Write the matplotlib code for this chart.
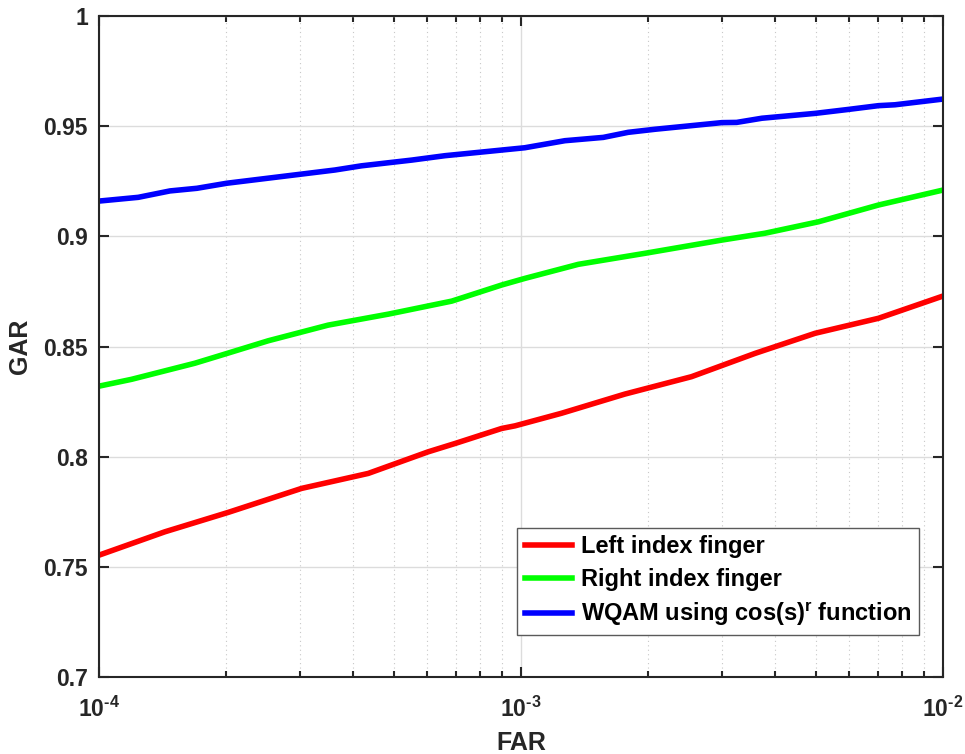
import numpy as np
import matplotlib
matplotlib.use('Agg')
import matplotlib.pyplot as plt
from matplotlib.ticker import LogLocator, NullFormatter, FixedLocator, FixedFormatter

plt.rcParams['font.family'] = ['Liberation Sans', 'DejaVu Sans']
plt.rcParams['font.weight'] = 'bold'
plt.rcParams['mathtext.fontset'] = 'custom'
plt.rcParams['mathtext.rm'] = 'Liberation Sans:bold'
plt.rcParams['mathtext.it'] = 'Liberation Sans:bold'
plt.rcParams['mathtext.bf'] = 'Liberation Sans:bold'
plt.rcParams['mathtext.default'] = 'rm'

# curve readings (log10 of FAR, GAR)
leftLogFar = [-4.0, -3.844, -3.694, -3.520, -3.362, -3.220, -3.156, -3.046, -3.014,
              -2.904, -2.754, -2.596, -2.445, -2.303, -2.153, -2.0]
leftGar = [0.7553, 0.7659, 0.7747, 0.7856, 0.7924, 0.8022, 0.8060, 0.8128, 0.8140,
           0.8197, 0.8284, 0.8363, 0.8469, 0.8560, 0.8628, 0.8729]

rightLogFar = [-4.0, -3.923, -3.773, -3.701, -3.599, -3.457, -3.314, -3.164, -3.046,
               -2.991, -2.864, -2.706, -2.524, -2.422, -2.295, -2.224, -2.153, -2.0]
rightGar = [0.8320, 0.8351, 0.8424, 0.8466, 0.8526, 0.8597, 0.8647, 0.8706, 0.8779,
            0.8809, 0.8873, 0.8923, 0.8983, 0.9014, 0.9066, 0.9104, 0.9142, 0.9210]

wqamLogFar = [-4.0, -3.907, -3.832, -3.768, -3.697, -3.441, -3.378, -3.259, -3.180,
              -3.101, -2.991, -2.896, -2.805, -2.746, -2.682, -2.524, -2.489, -2.429,
              -2.303, -2.224, -2.153, -2.114, -2.0]
wqamGar = [0.9160, 0.9177, 0.9206, 0.9218, 0.9241, 0.9301, 0.9320, 0.9346, 0.9366,
           0.9381, 0.9402, 0.9434, 0.9449, 0.9472, 0.9486, 0.9516, 0.9517, 0.9536,
           0.9558, 0.9576, 0.9593, 0.9597, 0.9623]

labels = ['Left index finger', 'Right index finger', r'WQAM using cos(s)$^\mathrm{r}$ function']
xTicks = [1e-4, 1e-3, 1e-2]
xTickLabels = [r'10$^{\text{-4}}$', r'10$^{\text{-3}}$', r'10$^{\text{-2}}$']
yTicks = [0.7, 0.75, 0.8, 0.85, 0.9, 0.95, 1.0]
yTickLabels = ['0.7', '0.75', '0.8', '0.85', '0.9', '0.95', '1']

fig = plt.figure(figsize=(9.65, 7.54), dpi=100)
ax = fig.add_axes([0.1026, 0.1021, 0.8746, 0.8767])

ax.plot(10 ** np.array(leftLogFar), leftGar, color='#ff0000', lw=4.0, label=labels[0])
ax.plot(10 ** np.array(rightLogFar), rightGar, color='#00ff00', lw=4.0, label=labels[1])
ax.plot(10 ** np.array(wqamLogFar), wqamGar, color='#0000ff', lw=4.0, label=labels[2])

ax.set_xscale('log')
ax.set_xlim(1e-4, 1e-2)
ax.set_ylim(0.7, 1.0)
ax.xaxis.set_major_locator(FixedLocator(xTicks))
ax.xaxis.set_major_formatter(FixedFormatter(xTickLabels))
ax.xaxis.set_minor_locator(LogLocator(base=10, subs=np.arange(2, 10)))
ax.xaxis.set_minor_formatter(NullFormatter())
ax.set_yticks(yTicks)
ax.set_yticklabels(yTickLabels)

# matlab style grid
ax.grid(True, which='major', color='#dcdcdc', lw=1.0, ls='-')
ax.grid(True, which='minor', axis='x', color='#c8c8c8', lw=0.8, ls=(0, (1, 3)))
ax.set_axisbelow(True)

ax.tick_params(which='both', direction='in', top=True, right=True, colors='#262626',
               labelsize=16.5, width=1.5)
ax.tick_params(which='major', length=7)
ax.tick_params(which='minor', length=4)
ax.tick_params(axis='x', pad=14)
ax.tick_params(axis='y', pad=8)
for sp in ax.spines.values():
    sp.set_color('#262626')
    sp.set_linewidth(1.5)

ax.set_xlabel('FAR', fontsize=18, fontweight='bold', color='#262626')
ax.set_ylabel('GAR', fontsize=18, fontweight='bold', color='#262626')
ax.xaxis.set_label_coords(0.5, -0.081)
ax.yaxis.set_label_coords(-0.079, 0.5)

leg = ax.legend(loc='lower right', bbox_to_anchor=(0.9716, 0.0635), borderaxespad=0,
                fontsize=17, fancybox=False, framealpha=1, edgecolor='#5a5a5a',
                handlelength=2.0, handletextpad=0.4, labelspacing=0.42, borderpad=0.3)
leg.get_frame().set_linewidth(1.0)

fig.savefig('out.png', dpi=100)
